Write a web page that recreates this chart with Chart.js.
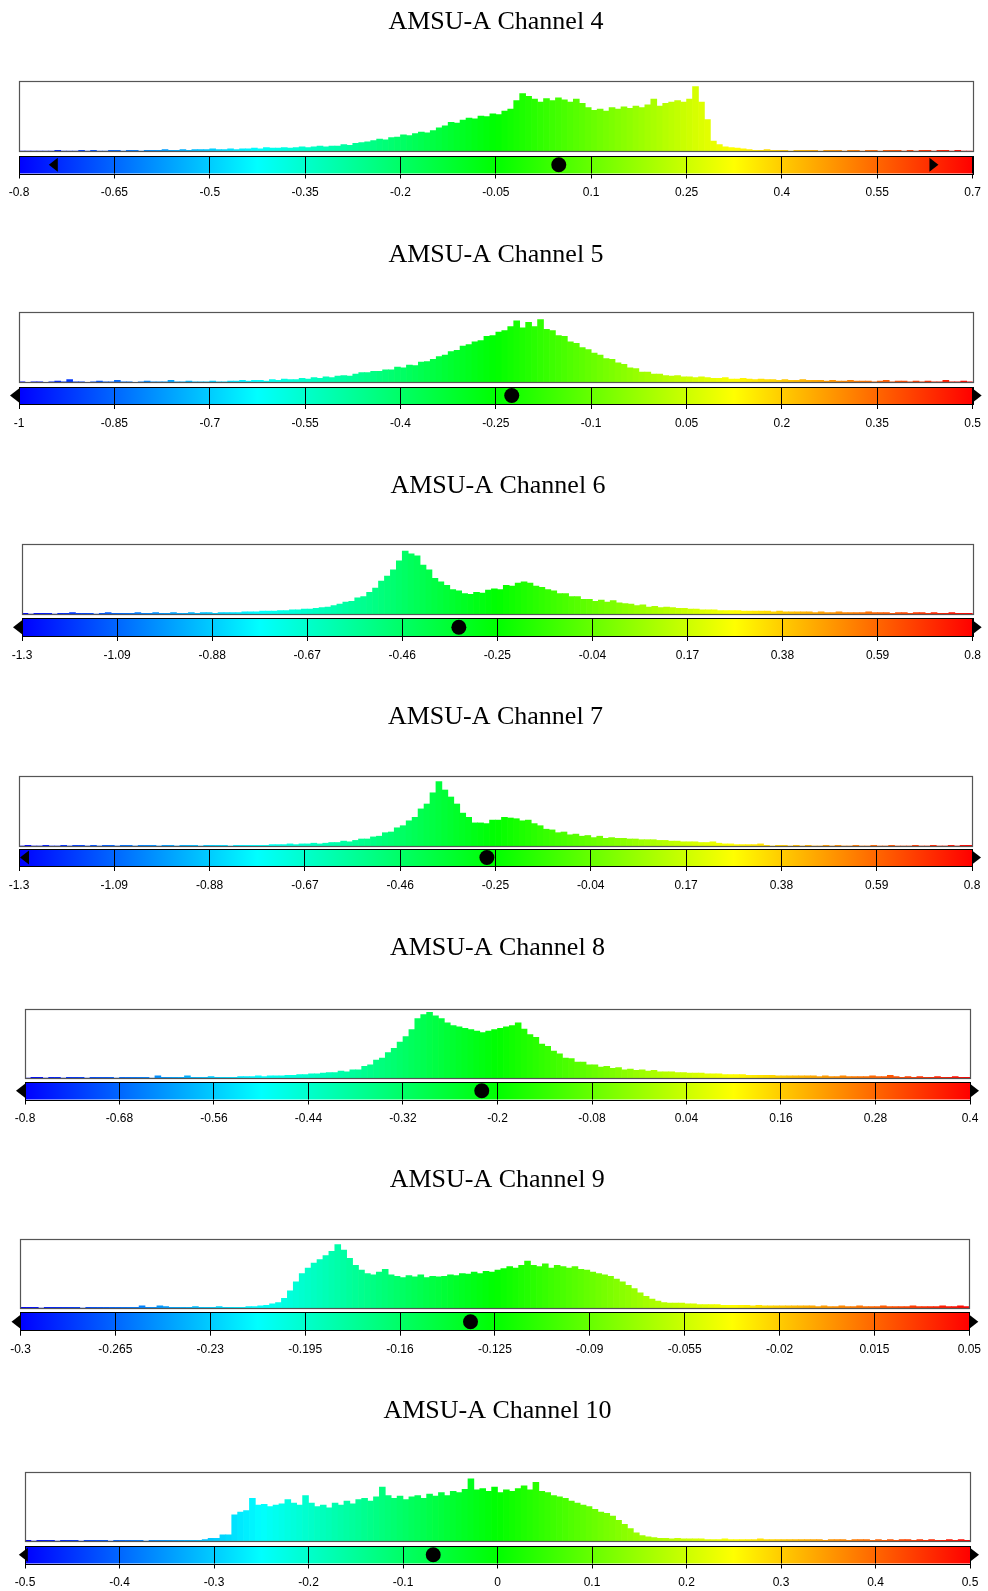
<!DOCTYPE html>
<html><head><meta charset="utf-8">
<script src="https://cdn.jsdelivr.net/npm/chart.js@4.4.1/dist/chart.umd.min.js"></script>
<style>
html,body{margin:0;padding:0;background:#fff}
body{width:988px;height:1591px;position:relative;overflow:hidden}
canvas{position:absolute;left:0}
</style></head><body>
<script>
// ---------------- DATA ----------------
const titles = ['AMSU-A Channel 4','AMSU-A Channel 5','AMSU-A Channel 6','AMSU-A Channel 7','AMSU-A Channel 8','AMSU-A Channel 9','AMSU-A Channel 10'];
const xMins = [-0.8, -1, -1.3, -1.3, -0.8, -0.3, -0.5];
const xMaxs = [0.7, 0.5, 0.8, 0.8, 0.4, 0.05, 0.5];

const ticks4  = ['-0.8','-0.65','-0.5','-0.35','-0.2','-0.05','0.1','0.25','0.4','0.55','0.7'];
const ticks5  = ['-1','-0.85','-0.7','-0.55','-0.4','-0.25','-0.1','0.05','0.2','0.35','0.5'];
const ticks6  = ['-1.3','-1.09','-0.88','-0.67','-0.46','-0.25','-0.04','0.17','0.38','0.59','0.8'];
const ticks7  = ['-1.3','-1.09','-0.88','-0.67','-0.46','-0.25','-0.04','0.17','0.38','0.59','0.8'];
const ticks8  = ['-0.8','-0.68','-0.56','-0.44','-0.32','-0.2','-0.08','0.04','0.16','0.28','0.4'];
const ticks9  = ['-0.3','-0.265','-0.23','-0.195','-0.16','-0.125','-0.09','-0.055','-0.02','0.015','0.05'];
const ticks10 = ['-0.5','-0.4','-0.3','-0.2','-0.1','0','0.1','0.2','0.3','0.4','0.5'];

// histogram heights (percent of panel height), 160 equal bins across each axis range
const hist4 = [0,0,0,0,0,0,1,0,0,0,1,0,1,0,0,1,1,0,1,1,0,1,
 1,1,2,1,1,2,1,2,2,
 2,3,2,2,3,2,3,
 3,4,3,5,4,4,5,4,
 5,6,5,6,7,6,7,
 7,9,8,11,12,13,15,17,16,19,20,23,22,25,27,26,29,
 33,36,41,40,44,47,46,50,49,53,52,57,60,
 72,82,78,74,70,75,72,76,73,70,74,68,62,58,60,57,62,60,63,61,64,62,66,74,64,68,70,72,70,74,92,70,
 45,14,9,6,5,4,3,2,
 1,1,2,1,1,1,0,1,1,1,1,0,1,1,1,0,1,1,0,1,1,0,1,1,1,0,1,0,1,1,0,1,1,0,1,0,0];
const hist5 = [1,0,1,1,0,1,2,1,4,1,1,0,1,2,1,1,3,1,1,0,1,2,1,1,1,3,1,1,2,1,1,1,2,1,1,2,
 2,3,2,3,3,2,4,3,5,4,4,6,5,7,6,8,7,
 9,10,9,12,14,
 14,16,16,18,18,22,21,
 25,24,29,30,33,37,39,
 44,46,52,54,58,
 60,66,67,72,74,
 80,88,78,86,80,90,76,
 74,67,66,
 58,56,50,47,42,39,34,
 33,28,26,21,20,15,15,
 12,12,10,9,10,8,8,7,8,7,
 6,6,7,5,5,6,5,4,5,4,
 4,3,4,3,3,4,3,3,3,2,3,2,2,3,2,
 2,2,1,2,3,1,2,2,1,2,1,2,1,1,3,1,1,2,1];
const hist6 = [1,0,1,1,1,0,1,1,2,1,1,1,0,1,2,1,1,1,1,2,1,1,2,1,1,2,1,1,2,1,2,2,1,2,2,
 2,2,3,3,3,4,4,4,5,5,6,6,
 7,7,8,9,10,12,
 14,17,18,23,25,31,
 37,47,54,63,
 76,90,86,83,
 70,63,51,46,
 41,35,33,29,
 28,31,30,34,
 36,35,41,40,44,46,
 44,40,38,35,
 33,29,29,25,25,21,
 21,18,20,17,19,16,15,
 14,12,13,10,11,9,10,
 9,8,8,7,7,6,6,6,
 5,5,5,5,4,4,4,4,4,3,4,3,3,3,3,3,
 2,3,2,2,3,2,2,2,2,3,2,2,2,1,2,2,1,2,2,1,2,1,1,2,1,1,1];
const hist7 = [0,1,0,0,1,0,0,1,0,1,1,0,1,0,1,1,0,1,1,0,1,1,1,0,1,1,0,1,1,1,0,1,1,1,1,0,1,1,1,1,1,
 1,2,2,2,3,2,3,3,4,3,4,5,
 5,7,6,8,10,
 10,13,14,19,
 20,26,29,36,
 41,53,60,76,
 92,80,70,
 60,47,41,33,
 33,32,37,37,
 41,40,39,36,
 37,32,29,24,
 23,19,20,16,
 17,14,15,12,14,11,12,
 11,11,10,10,9,9,9,8,
 8,7,7,6,6,6,5,5,6,
 4,3,3,2,2,2,2,3,
 1,0,1,1,0,1,0,1,0,0,1,0,1,0,0,1,0,0,1,0,0,1,0,0,0,1,0,0,1,0,0,1,0,1,1];
const hist8 = [0,1,1,0,1,1,0,1,1,1,0,1,1,1,1,0,1,1,1,1,1,0,3,1,1,1,1,3,1,1,1,2,1,1,1,
 1,2,2,2,3,2,3,3,3,4,4,5,
 5,6,6,7,8,
 8,10,9,12,12,17,19,
 26,29,37,43,
 52,60,70,86,92,
 95,90,86,
 80,76,74,72,
 70,68,66,68,
 70,72,74,76,80,
 71,63,59,49,
 46,39,35,29,
 28,23,23,19,
 19,16,17,14,15,12,
 13,11,12,10,11,9,
 9,9,8,8,7,7,7,6,6,
 6,5,5,5,5,4,4,4,4,
 4,3,3,3,3,3,3,3,2,3,2,2,3,2,2,2,
 2,3,2,2,4,2,1,2,1,2,1,1,2,1,1,2,1,1];
const hist9 = [1,1,1,0,1,1,1,1,1,1,0,1,1,1,1,1,1,1,1,1,3,1,1,3,2,1,1,1,1,2,1,1,1,2,1,1,1,1,2,
 2,3,4,6,8,
 14,25,38,50,
 58,65,70,76,82,92,
 84,72,62,55,
 50,48,52,56,48,
 46,44,47,45,48,44,46,45,
 46,48,47,50,49,52,50,
 53,52,55,57,60,58,62,
 68,62,60,64,58,62,60,
 58,60,56,55,52,50,48,
 46,42,38,33,28,22,
 17,13,10,8,7,7,
 7,6,6,5,5,5,
 5,4,4,4,4,4,3,4,3,3,3,3,3,3,3,3,
 3,2,3,2,2,3,2,2,3,2,2,2,3,2,2,2,2,3,2,2,2,2,3,2,2,3,2];
const hist10 = [1,0,1,1,1,0,1,1,1,0,1,1,1,1,0,1,1,1,1,1,0,1,1,1,1,1,1,1,1,1,2,
 4,4,9,9,
 38,42,44,62,52,53,50,52,54,60,55,52,66,55,50,52,48,55,52,58,54,60,62,58,64,
 78,66,62,65,60,64,66,62,68,65,70,66,72,70,75,90,74,76,72,78,70,74,72,76,80,74,85,72,70,
 66,64,62,58,55,52,50,46,42,40,36,30,24,18,12,8,6,5,
 4,4,3,4,3,3,3,3,2,
 2,2,3,2,2,2,2,2,3,2,2,2,2,2,2,2,2,2,2,1,2,2,2,1,2,2,2,1,2,1,2,1,2,2,1,2,1,2,1,1,2,1,2,1];

const means    = [0.049, -0.225, -0.335, -0.269, -0.22, -0.134, -0.068];
const triLeft  = [-0.739, -1, -1.3, -1.278, -0.8, -0.3, -0.497];
const triRight = [0.632, 0.5, 0.8, 0.8, 0.4, 0.05, 0.5];

const allTicks = [ticks4, ticks5, ticks6, ticks7, ticks8, ticks9, ticks10];
const allHist  = [hist4, hist5, hist6, hist7, hist8, hist9, hist10];

// ---------------- LAYOUT (page pixels) ----------------
const layouts = [
  {title:22,    boxTop:81,   boxBot:151,  cbTop:156,   cbBot:173.5, left:19,   right:973},
  {title:255,   boxTop:312.5,boxBot:382.5,cbTop:387,   cbBot:404,   left:19,   right:973},
  {title:486,   boxTop:544,  boxBot:614,  cbTop:618.5, cbBot:636,   left:22,   right:974},
  {title:717,   boxTop:776,  boxBot:846,  cbTop:849,   cbBot:866,   left:19,   right:972},
  {title:948.5, boxTop:1009, boxBot:1078, cbTop:1082,  cbBot:1099.5,left:25,   right:970},
  {title:1180,  boxTop:1239, boxBot:1308, cbTop:1312.7,cbBot:1330.7,left:20.5, right:974},
  {title:1411,  boxTop:1472, boxBot:1541, cbTop:1546,  cbBot:1563.5,left:25,   right:970}
];

const cmapStops = [[0,0,0,255],[0.25,0,255,255],[0.5,0,255,0],[0.75,255,255,0],[1,255,0,0]];
function cmap(t){
  t = Math.max(0, Math.min(1, t));
  for (let k = 0; k < cmapStops.length - 1; k++) {
    const a = cmapStops[k], b = cmapStops[k+1];
    if (t <= b[0]) {
      const f = (t - a[0]) / (b[0] - a[0]);
      return 'rgb(' + Math.round(a[1]+(b[1]-a[1])*f) + ',' + Math.round(a[2]+(b[2]-a[2])*f) + ',' + Math.round(a[3]+(b[3]-a[3])*f) + ')';
    }
  }
  return 'rgb(255,0,0)';
}
const al = p => Math.round(p - 0.5) + 0.5;

const panelPlugin = {
  id: 'panel',
  beforeDatasetsDraw(chart, args, o) {
    const ctx = chart.ctx, xs = chart.scales.x, yc = chart.scales.yc;
    const x0 = xs.getPixelForValue(o.min), x1 = xs.getPixelForValue(o.max);
    const t = yc.getPixelForValue(1), b = yc.getPixelForValue(0);
    const g = ctx.createLinearGradient(x0, 0, x1, 0);
    cmapStops.forEach(s => g.addColorStop(s[0], 'rgb(' + s[1] + ',' + s[2] + ',' + s[3] + ')'));
    ctx.save();
    ctx.fillStyle = g;
    ctx.fillRect(x0, t, x1 - x0, b - t);
    ctx.strokeStyle = '#000'; ctx.lineWidth = 1;
    ctx.beginPath();
    o.tickVals.forEach(v => { const px = al(xs.getPixelForValue(v)); ctx.moveTo(px, t); ctx.lineTo(px, b); });
    ctx.stroke();
    ctx.strokeRect(al(x0), al(t), Math.round(x1 - x0), Math.round(b - t));
    ctx.restore();
  },
  afterDatasetsDraw(chart, args, o) {
    const ctx = chart.ctx, xs = chart.scales.x, ys = chart.scales.y, yc = chart.scales.yc;
    const x0 = xs.getPixelForValue(o.min), x1 = xs.getPixelForValue(o.max);
    const t = ys.getPixelForValue(100), b = ys.getPixelForValue(0);
    ctx.save();
    ctx.strokeStyle = '#555'; ctx.lineWidth = 1.2;
    ctx.strokeRect(al(x0), al(t), Math.round(x1 - x0), Math.round(b - t));
    const cy = yc.getPixelForValue(0.5);
    ctx.fillStyle = '#000';
    const lx = xs.getPixelForValue(o.triL);
    ctx.beginPath(); ctx.moveTo(lx, cy - 7); ctx.lineTo(lx - 9, cy); ctx.lineTo(lx, cy + 7); ctx.closePath(); ctx.fill();
    const rx = xs.getPixelForValue(o.triR);
    ctx.beginPath(); ctx.moveTo(rx, cy - 7); ctx.lineTo(rx + 9, cy); ctx.lineTo(rx, cy + 7); ctx.closePath(); ctx.fill();
    ctx.restore();
  }
};

Chart.defaults.font.family = "'Liberation Sans', Arial, sans-serif";

layouts.forEach((L, p) => {
  const cTop = Math.round(L.title - 22);
  const areaBottom = L.cbBot - cTop;
  const H = Math.ceil(areaBottom + 34);
  const cv = document.createElement('canvas');
  cv.width = 988; cv.height = H;
  cv.style.top = cTop + 'px';
  cv.style.width = '988px'; cv.style.height = H + 'px';
  document.body.appendChild(cv);

  const xmin = xMins[p], xmax = xMaxs[p];
  const hist = allHist[p], n = hist.length, w = (xmax - xmin) / n;
  const labels = allTicks[p];
  const tickVals = labels.map(Number);
  const barData = hist.map((v, i) => ({x: xmin + (i + 0.5) * w, y: v}));
  const barColors = hist.map((v, i) => cmap((i + 0.5) / n));
  const boxH = L.boxBot - L.boxTop;
  const yMin = -(L.cbBot - L.boxBot) / boxH * 100;
  const ycMax = (L.cbBot - L.boxTop) / (L.cbBot - L.cbTop);
  const tH = 26 * 1.2;

  new Chart(cv, {
    type: 'bar',
    data: {
      datasets: [
        {type: 'scatter', data: [{x: means[p], y: 0.5}], yAxisID: 'yc', pointRadius: 7.5, pointHoverRadius: 7.5,
         backgroundColor: '#000', borderWidth: 0, clip: false, order: 0},
        {type: 'bar', data: barData, yAxisID: 'y', backgroundColor: barColors, borderWidth: 0,
         barPercentage: 1, categoryPercentage: 1, order: 1}
      ]
    },
    options: {
      responsive: false, animation: false, devicePixelRatio: 1,
      events: [],
      layout: {padding: {left: L.left, right: 988 - L.right, top: 0, bottom: 0}},
      plugins: {
        legend: {display: false}, tooltip: {enabled: false},
        title: {display: true, text: titles[p], color: '#000',
          font: {family: "'Liberation Serif', 'Times New Roman', serif", size: 26, weight: 'normal', lineHeight: 1.2},
          padding: {top: (L.title - cTop) - tH / 2, bottom: (L.boxTop - L.title) - tH / 2}},
        panel: {min: xmin, max: xmax, tickVals: tickVals, triL: triLeft[p], triR: triRight[p]}
      },
      scales: {
        x: {type: 'linear', position: 'bottom', min: xmin, max: xmax, offset: false,
          afterBuildTicks: ax => { ax.ticks = tickVals.map(v => ({value: v})); },
          afterFit: ax => { ax.height = H - areaBottom; },
          ticks: {autoSkip: false, maxRotation: 0, minRotation: 0, padding: 7, color: '#000',
            font: {size: 12}, callback: (v, i) => labels[i]},
          grid: {offset: false, drawOnChartArea: false, drawTicks: true, tickLength: 5, color: '#000', lineWidth: 1},
          border: {display: false}},
        y: {display: false, min: yMin, max: 100},
        yc: {display: false, min: 0, max: ycMax}
      }
    },
    plugins: [panelPlugin]
  });
});
</script>
</body></html>
